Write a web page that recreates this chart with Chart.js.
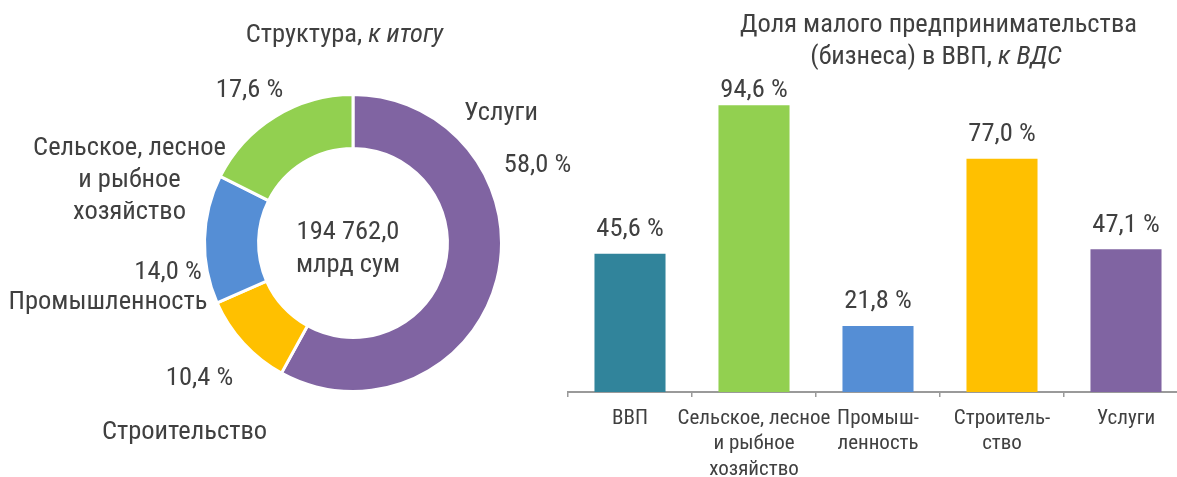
<!DOCTYPE html>
<html>
<head>
<meta charset="utf-8">
<script src="https://cdn.jsdelivr.net/npm/chart.js@4"></script>
<style>
html,body{margin:0;padding:0;background:#fff;overflow:hidden;width:1177px;height:477px;}
#wrap{position:relative;width:1177px;height:477px;overflow:hidden;}
#pieBox{position:absolute;left:0;top:0;width:590px;height:477px;}
#barBox{position:absolute;left:560px;top:0;width:640px;height:477px;}
</style>
</head>
<body>
<div id="wrap">
  <div id="pieBox"><canvas id="pie"></canvas></div>
  <div id="barBox"><canvas id="bar"></canvas></div>
</div>
<script>
// ---- data ----
const pieTitle = ['Структура, ', 'к итогу'];
const pieCategories = [['Услуги'], ['Строительство'], ['Промышленность'], ['Сельское, лесное', 'и рыбное', 'хозяйство']];
const pieValues = [58.0, 10.4, 14.0, 17.6];
const pieTotal = ['194 762,0', 'млрд сум'];

const barTitle = ['Доля малого предпринимательства', '(бизнеса) в ВВП, ', 'к ВДС'];
const barCategories = [['ВВП'], ['Сельское, лесное', 'и рыбное', 'хозяйство'], ['Промыш-', 'ленность'], ['Строитель-', 'ство'], ['Услуги']];
const barValues = [45.6, 94.6, 21.8, 77.0, 47.1];

// ---- styles ----
const FONT = '"Roboto Condensed", Roboto, sans-serif';
const TXT = '#404040';
const pieColors = ['#8064A2', '#FFC000', '#558ED5', '#92D050'];
const barColors = ['#31849B', '#92D050', '#558ED5', '#FFC000', '#8064A2'];
const fmt = v => v.toFixed(1).replace('.', ',') + ' %';

// label layout around the doughnut, offsets from the doughnut centre (value label, category label)
const pieLabelPos = [
  {v: [184.5, -71], c: [148, -123]},
  {v: [-153.5, 142], c: [-168.5, 196]},
  {v: [-185, 36], c: [-245, 66]},
  {v: [-103.5, -146], c: [-223.5, -88]}
];

function mixedText(ctx, parts, cx, y, size) {
  // parts: [[text, italic], ...] centered at cx
  let total = 0;
  const ws = parts.map(([t, it]) => { ctx.font = (it ? 'italic ' : '') + size + 'px ' + FONT; const w = ctx.measureText(t).width; total += w; return w; });
  let x = cx - total / 2;
  ctx.textAlign = 'left';
  parts.forEach(([t, it], i) => { ctx.font = (it ? 'italic ' : '') + size + 'px ' + FONT; ctx.fillText(t, x, y); x += ws[i]; });
}

const pieLabels = {
  id: 'pieLabels',
  afterDraw(chart) {
    const ctx = chart.ctx;
    const arc = chart.getDatasetMeta(0).data[0];
    const cx = arc.x, cy = arc.y;
    ctx.save();
    ctx.fillStyle = TXT;
    ctx.textBaseline = 'alphabetic';
    mixedText(ctx, [[pieTitle[0], false], [pieTitle[1], true]], cx - 8.5, cy - 201, 26.5);
    ctx.font = '26.5px ' + FONT;
    ctx.textAlign = 'center';
    pieValues.forEach((v, i) => {
      const p = pieLabelPos[i];
      ctx.fillText(fmt(v), cx + p.v[0], cy + p.v[1]);
      pieCategories[i].forEach((line, j) => ctx.fillText(line, cx + p.c[0], cy + p.c[1] + j * 32));
    });
    ctx.fillText(pieTotal[0], cx - 5, cy - 4);
    ctx.fillText(pieTotal[1], cx - 5, cy + 29);
    ctx.restore();
  }
};

new Chart(document.getElementById('pie'), {
  type: 'doughnut',
  data: {
    labels: pieCategories.map(c => c.join(' ')),
    datasets: [{data: pieValues, backgroundColor: pieColors, borderColor: '#ffffff', borderWidth: 3, hoverOffset: 0}]
  },
  options: {
    responsive: true, maintainAspectRatio: false, animation: false,
    cutout: '63.6%',
    layout: {padding: {left: 203, right: 87, top: 93, bottom: 84}},
    plugins: {legend: {display: false}, tooltip: {enabled: false}, title: {display: false}}
  },
  plugins: [pieLabels]
});

const barLabels = {
  id: 'barLabels',
  afterDraw(chart) {
    const ctx = chart.ctx;
    ctx.save();
    ctx.fillStyle = TXT;
    ctx.textBaseline = 'alphabetic';
    ctx.font = '26.5px ' + FONT;
    ctx.textAlign = 'center';
    ctx.fillText(barTitle[0], 378.5, 32);
    mixedText(ctx, [[barTitle[1], false], [barTitle[2], true]], 376, 64, 26.5);
    ctx.font = '26.5px ' + FONT;
    ctx.textAlign = 'center';
    chart.getDatasetMeta(0).data.forEach((b, i) => {
      ctx.fillText(fmt(barValues[i]), b.x, Math.max(b.y - 17.5, 97));
    });
    ctx.restore();
  }
};

new Chart(document.getElementById('bar'), {
  type: 'bar',
  data: {
    labels: barCategories,
    datasets: [{data: barValues, backgroundColor: barColors, barPercentage: 0.573, categoryPercentage: 1}]
  },
  options: {
    responsive: true, maintainAspectRatio: false, animation: false,
    layout: {padding: {left: 8, right: 12, top: 89, bottom: 0}},
    plugins: {legend: {display: false}, tooltip: {enabled: false}, title: {display: false}},
    scales: {
      x: {
        afterFit(scale) { scale.height = 85; },
        grid: {display: true, drawOnChartArea: false, drawTicks: true, tickLength: 5, color: '#9a9a9a', lineWidth: 1.5, offset: true},
        border: {display: true, color: '#9a9a9a', width: 2},
        ticks: {color: TXT, font: {family: FONT, size: 21, lineHeight: 1.21}, padding: 9, maxRotation: 0, minRotation: 0, autoSkip: false}
      },
      y: {display: false, min: 0, max: 100}
    }
  },
  plugins: [barLabels]
});
</script>
</body>
</html>
